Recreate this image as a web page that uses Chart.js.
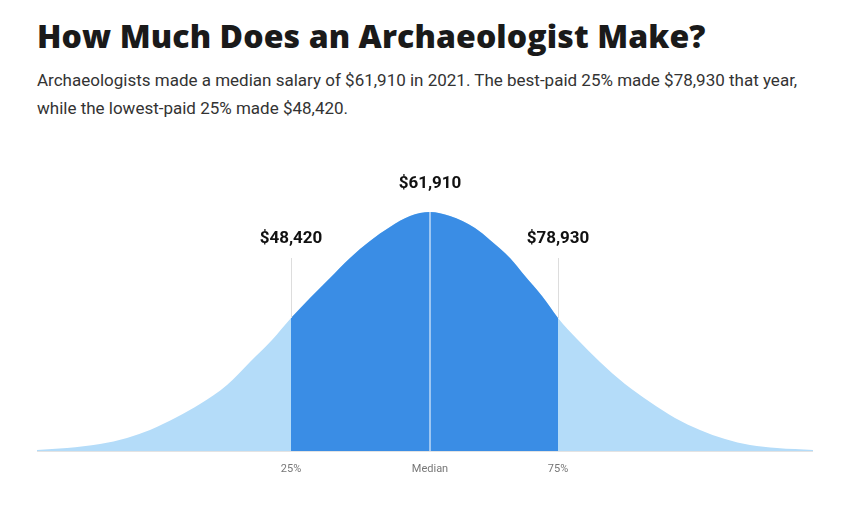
<!DOCTYPE html>
<html>
<head>
<meta charset="utf-8">
<script src="https://cdn.jsdelivr.net/npm/chart.js@4.4.0/dist/chart.umd.min.js"></script>
<style>
  body { margin: 0; background: #fff; width: 845px; height: 513px; overflow: hidden; position: relative; }
  h1 { position: absolute; left: 37px; top: 14px; margin: 0; font-family: "Open Sans", sans-serif; font-weight: 800; font-size: 32px; color: #1a1a1a; letter-spacing: 0.1px; white-space: nowrap; }
  p { position: absolute; left: 37px; top: 66px; margin: 0; width: 770px; font-family: Roboto, sans-serif; font-size: 17px; line-height: 28px; color: #333; }
  #wrap { position: absolute; left: 37px; top: 150px; width: 776px; height: 340px; }
</style>
</head>
<body>
<h1>How Much Does an Archaeologist Make?</h1>
<p>Archaeologists made a median salary of $61,910 in 2021. The best-paid 25% made $78,930 that year, while the lowest-paid 25% made $48,420.</p>
<div id="wrap"><canvas id="c"></canvas></div>
<script>
// curve: x offset from left edge, height above baseline
const curveX = [0, 30, 63, 90, 113, 140, 163, 190, 213, 235, 254, 273, 293, 313, 333, 353, 373, 393, 413, 438, 453, 473, 488, 505, 521, 540, 563, 588, 613, 638, 663, 688, 713, 740, 776];
const curveH = [1, 3, 7, 13, 21, 34, 47, 66, 89, 111, 133, 153, 173, 193, 210, 224, 235, 239, 235, 223, 211, 193, 175, 155, 133, 112, 89, 67, 49, 33, 21, 12, 6, 3, 1];
const quartileX = [254, 521];
const medianX = 393;
const tickLabels = ['25%', 'Median', '75%'];
const tickX = [254, 393, 521];
const valueLabels = ['$48,420', '$61,910', '$78,930'];

const full = curveX.map((x, i) => ({ x: x, y: curveH[i] }));
const mid = full.filter(p => p.x >= quartileX[0] && p.x <= quartileX[1]);

const overlay = {
  id: 'overlay',
  afterDatasetsDraw(chart) {
    const { ctx, scales: { x, y } } = chart;
    const base = y.getPixelForValue(0);
    ctx.save();
    ctx.strokeStyle = '#e3e3e3'; ctx.lineWidth = 1;
    ctx.beginPath(); ctx.moveTo(x.left, base + 0.5); ctx.lineTo(x.right, base + 0.5); ctx.stroke();
    ctx.strokeStyle = '#ffffff';
    ctx.beginPath(); ctx.moveTo(x.getPixelForValue(medianX), base); ctx.lineTo(x.getPixelForValue(medianX), y.getPixelForValue(239)); ctx.stroke();
    ctx.strokeStyle = '#dddddd';
    quartileX.forEach(q => {
      const px = x.getPixelForValue(q) + 0.5;
      ctx.beginPath(); ctx.moveTo(px, y.getPixelForValue(193)); ctx.lineTo(px, y.getPixelForValue(133)); ctx.stroke();
    });
    ctx.fillStyle = '#111'; ctx.font = 'bold 17px Roboto'; ctx.textAlign = 'center'; ctx.textBaseline = 'middle';
    ctx.fillText(valueLabels[0], x.getPixelForValue(quartileX[0]), y.getPixelForValue(212));
    ctx.fillText(valueLabels[1], x.getPixelForValue(medianX), y.getPixelForValue(267));
    ctx.fillText(valueLabels[2], x.getPixelForValue(quartileX[1]), y.getPixelForValue(212));
    ctx.fillStyle = '#777'; ctx.font = '11px Roboto';
    tickX.forEach((t, i) => ctx.fillText(tickLabels[i], x.getPixelForValue(t), base + 18));
    ctx.restore();
  }
};

new Chart(document.getElementById('c'), {
  type: 'line',
  data: {
    datasets: [
      { data: mid, fill: 'origin', backgroundColor: '#3a8de5', borderWidth: 0, pointRadius: 0, cubicInterpolationMode: 'monotone' },
      { data: full, fill: 'origin', backgroundColor: '#b4dcf9', borderWidth: 0, pointRadius: 0, cubicInterpolationMode: 'monotone' }
    ]
  },
  options: {
    responsive: true,
    maintainAspectRatio: false,
    animation: false,
    layout: { padding: { bottom: 39 } },
    plugins: { legend: { display: false }, tooltip: { enabled: false } },
    scales: {
      x: { type: 'linear', min: 0, max: 776, display: false },
      y: { min: 0, max: 301, display: false }
    }
  },
  plugins: [overlay]
});
</script>
</body>
</html>
